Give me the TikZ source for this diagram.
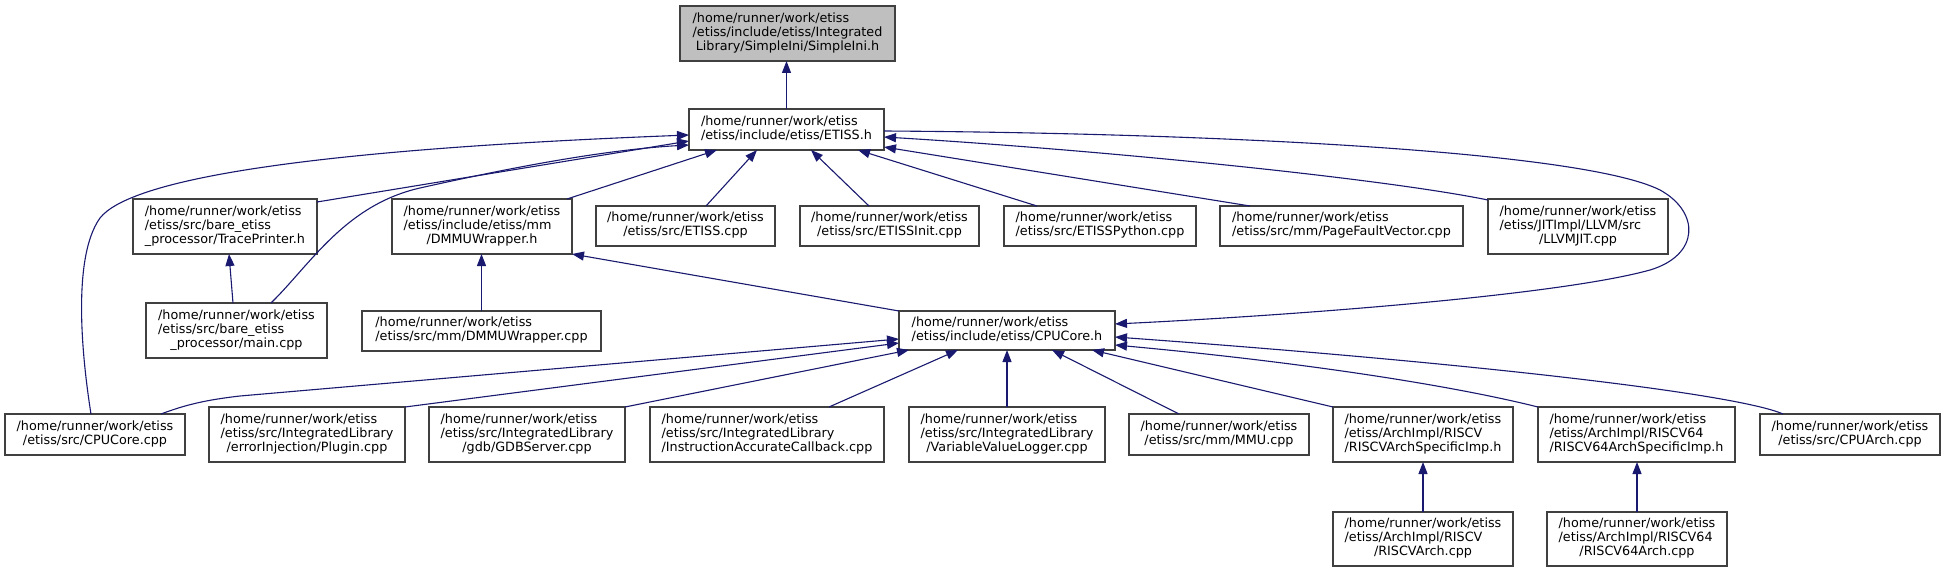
\documentclass[tikz,border=0pt]{standalone}
\usepackage{fontspec}
\setmainfont{DejaVu Sans}
\usetikzlibrary{arrows.meta}
\definecolor{mblue}{HTML}{191970}
\definecolor{nodeline}{HTML}{404040}
\definecolor{topfill}{HTML}{BFBFBF}
\newcommand{\lbl}[2]{\begin{tabular}{@{}l@{}}#1\\\multicolumn{1}{@{}c@{}}{#2}\end{tabular}}
\newcommand{\hwpath}{/home/runner/work/etiss}
\begin{document}
\begin{tikzpicture}[x=1pt,y=-1pt,
  box/.style={draw=nodeline, line width=1.1pt, fill=white, inner sep=0pt, outer sep=0pt,
    font=\fontsize{12.77}{14}\selectfont},
  dims/.style 2 args={minimum width=#1pt, minimum height=#2pt},
  conn/.style={draw=mblue, line width=1.1pt, -{Triangle[length=12pt,width=9pt]}}]
\fill[white] (0,0) rectangle (1945,572);
\useasboundingbox (0,0) rectangle (1945,572);

% nodes
\node[box, fill=topfill, dims={215}{55}] (simple) at (787.5,33.5) {\lbl{\hwpath\\/etiss/include/etiss/Integrated}{Library/SimpleIni/SimpleIni.h}};
\node[box, dims={195}{41}] (etissh) at (786.5,129.5) {\lbl{\hwpath}{/etiss/include/etiss/ETISS.h}};
\node[box, dims={184}{55}] (tp) at (225,226.5) {\lbl{\hwpath\\/etiss/src/bare\_etiss}{\_processor/TracePrinter.h}};
\node[box, dims={181}{55}] (mainc) at (236.5,330.5) {\lbl{\hwpath\\/etiss/src/bare\_etiss}{\_processor/main.cpp}};
\node[box, dims={180}{55}] (dmmuh) at (482,226.5) {\lbl{\hwpath\\/etiss/include/etiss/mm}{/DMMUWrapper.h}};
\node[box, dims={239}{40}] (dmmuc) at (481.5,331) {\lbl{\hwpath}{/etiss/src/mm/DMMUWrapper.cpp}};
\node[box, dims={179}{40}] (etissc) at (685.5,226) {\lbl{\hwpath}{/etiss/src/ETISS.cpp}};
\node[box, dims={179}{40}] (init) at (889.5,226) {\lbl{\hwpath}{/etiss/src/ETISSInit.cpp}};
\node[box, dims={192}{40}] (python) at (1100,226) {\lbl{\hwpath}{/etiss/src/ETISSPython.cpp}};
\node[box, dims={243}{40}] (page) at (1341.5,226) {\lbl{\hwpath}{/etiss/src/mm/PageFaultVector.cpp}};
\node[box, dims={180}{55}] (llvm) at (1578,226.5) {\lbl{\hwpath\\/etiss/JITImpl/LLVM/src}{/LLVMJIT.cpp}};
\node[box, dims={216}{39}] (cpuh) at (1007,330.5) {\lbl{\hwpath}{/etiss/include/etiss/CPUCore.h}};
\node[box, dims={180}{41}] (cpuc) at (95,434.5) {\lbl{\hwpath}{/etiss/src/CPUCore.cpp}};
\node[box, dims={196}{55}] (plugin) at (307,434.5) {\lbl{\hwpath\\/etiss/src/IntegratedLibrary}{/errorInjection/Plugin.cpp}};
\node[box, dims={196}{55}] (gdb) at (527,434.5) {\lbl{\hwpath\\/etiss/src/IntegratedLibrary}{/gdb/GDBServer.cpp}};
\node[box, dims={234}{55}] (iac) at (767,434.5) {\lbl{\hwpath\\/etiss/src/IntegratedLibrary}{/InstructionAccurateCallback.cpp}};
\node[box, dims={196}{55}] (vvl) at (1007,434.5) {\lbl{\hwpath\\/etiss/src/IntegratedLibrary}{/VariableValueLogger.cpp}};
\node[box, dims={180}{41}] (mmu) at (1219,434.5) {\lbl{\hwpath}{/etiss/src/mm/MMU.cpp}};
\node[box, dims={180}{55}] (rvh) at (1423,434.5) {\lbl{\hwpath\\/etiss/ArchImpl/RISCV}{/RISCVArchSpecificImp.h}};
\node[box, dims={197}{55}] (rv64h) at (1636.5,434.5) {\lbl{\hwpath\\/etiss/ArchImpl/RISCV64}{/RISCV64ArchSpecificImp.h}};
\node[box, dims={180}{41}] (arch) at (1850,434.5) {\lbl{\hwpath}{/etiss/src/CPUArch.cpp}};
\node[box, dims={180}{54}] (rvc) at (1423,539) {\lbl{\hwpath\\/etiss/ArchImpl/RISCV}{/RISCVArch.cpp}};
\node[box, dims={180}{54}] (rv64c) at (1637,539) {\lbl{\hwpath\\/etiss/ArchImpl/RISCV64}{/RISCV64Arch.cpp}};

% connectors
\draw[conn] (etissh.north) -- (etissh.north |- simple.south);
\draw[conn] ([yshift=-3pt]tp.north east) -- ([yshift=-11.5pt]etissh.west);
\draw[conn] ([xshift=34.5pt]mainc.north) .. controls (310,265) and (345,205) .. (420,188) .. controls (500,170) and (600,150) .. ([yshift=-15.5pt]etissh.west);
\draw[conn] ([xshift=-3.5pt]mainc.north) -- ([xshift=4pt]tp.south);
\draw[conn] ([xshift=-4pt]cpuc.north) .. controls (84,370) and (70,260) .. (100,218) .. controls (130,180) and (300,150) .. ([yshift=-5.5pt]etissh.west);
\draw[conn] ([xshift=-5pt]dmmuh.north east) -- ([xshift=28pt]etissh.south west);
\draw[conn] ([xshift=20.5pt]etissc.north) -- ([xshift=68pt]etissh.south west);
\draw[conn] ([xshift=-20.5pt]init.north) -- ([xshift=122pt]etissh.south west);
\draw[conn] ([xshift=33pt]python.north west) -- ([xshift=169pt]etissh.south west);
\draw[conn] ([xshift=30pt]page.north west) -- ([yshift=-17.5pt]etissh.east);
\draw[conn] ([yshift=-1pt]llvm.north west) .. controls (1380,178) and (1100,150) .. ([yshift=-7.5pt]etissh.east);
\draw[conn] ([yshift=-1.5pt]etissh.east) .. controls (1200,133) and (1580,150) .. (1660,190) .. controls (1700,212) and (1700,255) .. (1650,270) .. controls (1560,295) and (1300,315) .. ([yshift=6.5pt]cpuh.east);
\draw[conn] (dmmuc.north) -- (dmmuc.north |- dmmuh.south);
\draw[conn] (cpuh.north west) -- (dmmuh.south east);
\draw[conn] ([xshift=-24pt]cpuc.north east) .. controls (185,405) and (205,400) .. (240,396) -- ([yshift=-8.5pt]cpuh.west);
\draw[conn] (plugin.north east) -- ([yshift=-12.5pt]cpuh.west);
\draw[conn] (gdb.north east) -- ([xshift=10pt]cpuh.south west);
\draw[conn] ([xshift=-55pt]iac.north east) -- ([xshift=-49pt]cpuh.south);
\draw[conn] (vvl.north) -- (cpuh.south);
\draw[conn] ([xshift=-40pt]mmu.north) -- ([xshift=45pt]cpuh.south);
\draw[conn] (rvh.north west) -- ([xshift=-23pt]cpuh.south east);
\draw[conn] (rv64h.north west) .. controls (1450,385) and (1300,362) .. ([yshift=-14.5pt]cpuh.east);
\draw[conn] ([xshift=23pt]arch.north west) .. controls (1740,395) and (1500,365) .. ([yshift=-6.5pt]cpuh.east);
\draw[conn] (rvc.north) -- (rvh.south);
\draw[conn] (rv64c.north) -- (rv64c.north |- rv64h.south);
\end{tikzpicture}
\end{document}
